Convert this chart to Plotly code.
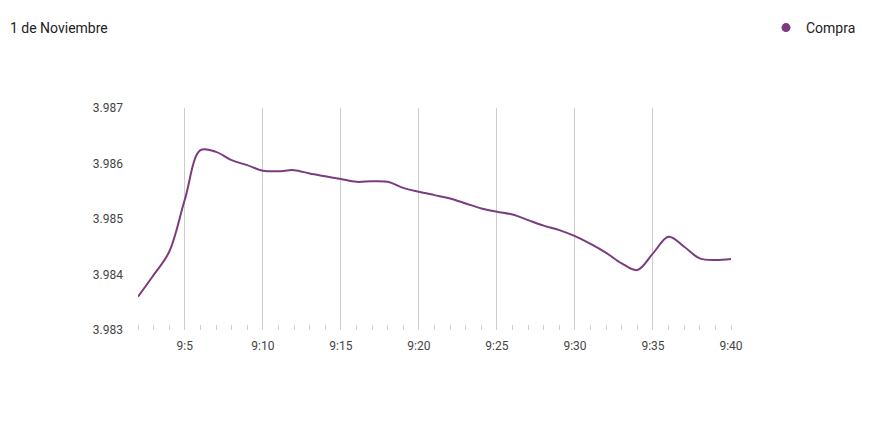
import plotly.graph_objects as go

# Minutes past 9:00
minutes = list(range(2, 41))
compra = [3.98360, 3.98399, 3.98441, 3.98535, 3.98624, 3.98621, 3.98606, 3.98597,
          3.98587, 3.98586, 3.98588, 3.98582, 3.98577, 3.98572, 3.98567, 3.98568,
          3.98567, 3.98556, 3.98549, 3.98543, 3.98537, 3.98528, 3.98519, 3.98513,
          3.98508, 3.98498, 3.98488, 3.98480, 3.98469, 3.98455, 3.98439, 3.98420,
          3.98408, 3.98438, 3.98468, 3.98450, 3.98429, 3.98426, 3.98428]

x_tick_vals = [5, 10, 15, 20, 25, 30, 35, 40]
x_tick_labels = ["9:5", "9:10", "9:15", "9:20", "9:25", "9:30", "9:35", "9:40"]
y_tick_vals = [3.983, 3.984, 3.985, 3.986, 3.987]
y_tick_labels = ["3.983", "3.984", "3.985", "3.986", "3.987"]

title_text = "1 de Noviembre"
series_name = "Compra"
color = "#7b3b7f"

W, H = 853, 419  # page body has an 8px margin

fig = go.Figure()
fig.add_trace(go.Scatter(
    x=minutes, y=compra, mode="lines", name=series_name,
    line=dict(color=color, width=2, shape="spline", smoothing=1),
    showlegend=False,
))
fig.add_trace(go.Scatter(
    x=[None], y=[None], mode="markers", name=series_name,
    marker=dict(color=color, size=9, symbol="circle"),
    showlegend=True,
))

fig.update_layout(
    width=W, height=H,
    margin=dict(l=130, r=W - 130 - 593, t=100, b=H - 100 - 222),
    paper_bgcolor="white", plot_bgcolor="white",
    font=dict(family="Roboto, Arial, sans-serif", size=12, color="#444"),
    title=dict(text=title_text, x=2 / W, xanchor="left", xref="container",
               y=1 - 20 / H, yanchor="middle", yref="container",
               font=dict(size=14, color="#222")),
    legend=dict(xref="container", yref="container", x=1.006, xanchor="right",
                y=1 - 20 / H, yanchor="middle", font=dict(size=14, color="#222"),
                bgcolor="rgba(0,0,0,0)", itemwidth=30),
    hovermode=False,
)
fig.update_xaxes(
    range=[2, 40], tickvals=x_tick_vals, ticktext=x_tick_labels,
    showgrid=True, gridcolor="#cccccc", gridwidth=1,
    showline=False, zeroline=False, ticks="", ticklabelstandoff=7,
    minor=dict(dtick=1, tick0=2, ticks="inside", ticklen=5, tickcolor="#d0d0d0", showgrid=False),
    tickfont=dict(size=12, color="#444"),
)
fig.update_yaxes(
    range=[3.983, 3.987], tickvals=y_tick_vals, ticktext=y_tick_labels,
    showgrid=False, zeroline=False, showline=False, ticks="",
    ticklabelstandoff=14, tickfont=dict(size=12, color="#444"),
)
fig.write_html("out.html")
